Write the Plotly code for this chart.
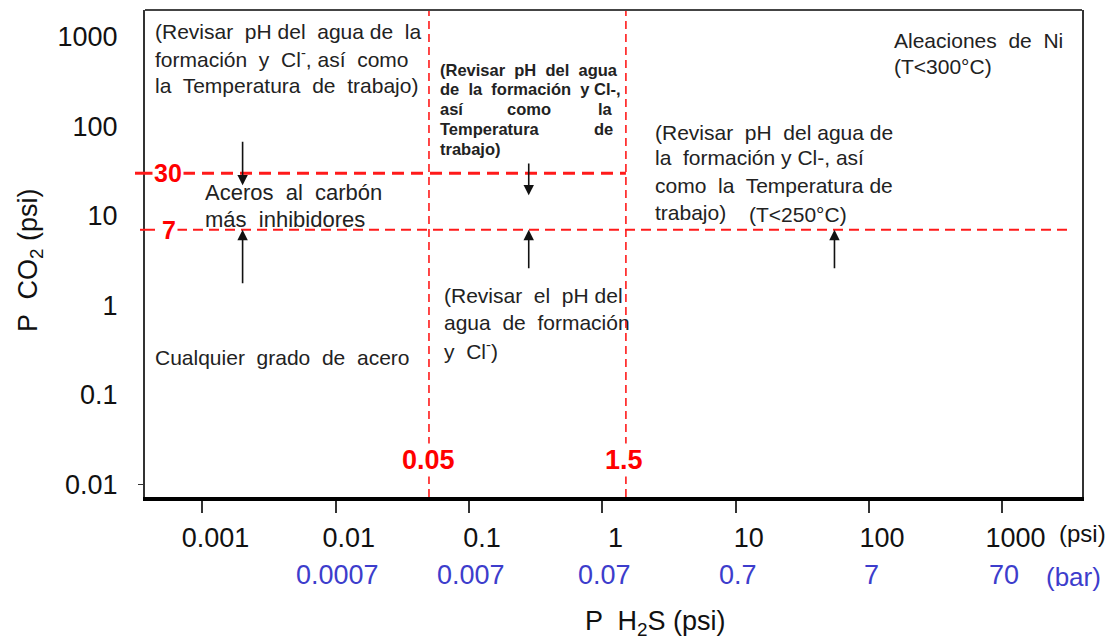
import numpy as np
import plotly.graph_objects as go

# ---------------- data ----------------
x_tick_psi = [0.001, 0.01, 0.1, 1, 10, 100, 1000]
x_tick_psi_text = ["0.001", "0.01", "0.1", "1", "10", "100", "1000"]
x_tick_bar = [0.01, 0.1, 1, 10, 100, 1000]
x_tick_bar_text = ["0.0007", "0.007", "0.07", "0.7", "7", "70"]
y_tick_vals = [0.01, 0.1, 1, 10, 100, 1000]
y_tick_text = ["0.01", "0.1", "1", "10", "100", "1000"]

h2s_limits = [0.05, 1.5]          # psi, vertical red dashed lines
h2s_limit_labels = ["0.05", "1.5"]
co2_high = 30                      # psi, thick red dashed line (ends at H2S = 1.5)
co2_low = 7                        # psi, thin red dashed line
co2_high_end_h2s = 1.5
co2_low_end_h2s = 3300

arrow_x = [0.002, 0.002, 0.28, 0.28, 55]
arrow_from = [70, 1.7, 40, 2.5, 2.5]
arrow_to = [22, 7, 17, 7, 7]

# ---------------- layout geometry ----------------
W, H = 1115, 640
PL, PR, PT, PB = 145, 1082, 10, 497
X_RANGE = [-3.431, 3.597]
Y_RANGE = [-2.139, 3.300]
FONT = "Liberation Sans, Arial, sans-serif"
RED = "#ff1a1a"
TXT = "#222222"
BLUE = "#3d3dcc"


def px(x):
    return (x - PL) / (PR - PL)


def py(y):
    return (PB - y) / (PB - PT)


fig = go.Figure()

ymin, ymax = 10 ** Y_RANGE[0], 10 ** Y_RANGE[1]
xmin = 10 ** X_RANGE[0]

# horizontal dashed lines
fig.add_trace(go.Scatter(x=[xmin, co2_high_end_h2s], y=[co2_high, co2_high], mode="lines",
                         line=dict(color=RED, width=3, dash="12px,7px"), hoverinfo="skip"))
fig.add_trace(go.Scatter(x=[xmin, co2_low_end_h2s], y=[co2_low, co2_low], mode="lines",
                         line=dict(color=RED, width=2, dash="10px,6px"), hoverinfo="skip"))
# vertical dashed lines
for xv in h2s_limits:
    fig.add_trace(go.Scatter(x=[xv, xv], y=[ymin, ymax], mode="lines",
                             line=dict(color=RED, width=1.6, dash="8px,5px"), hoverinfo="skip"))

ann = []


def text(x, y, s, size=21, color=TXT, bold=False, anchor="left", xref="paper", yref="paper", **kw):
    if bold:
        s = "<b>" + s + "</b>"
    d = dict(x=x, y=y, xref=xref, yref=yref, text=s, showarrow=False,
             xanchor=anchor, yanchor="middle", align=anchor,
             font=dict(family=FONT, size=size, color=color))
    d.update(kw)
    ann.append(d)


def block(xl, ys, lines, **kw):
    for yy, s in zip(ys, lines):
        text(px(xl), py(yy), s, **kw)


# arrows
for xa, y0, y1 in zip(arrow_x, arrow_from, arrow_to):
    ann.append(dict(x=np.log10(xa), y=np.log10(y1), ax=np.log10(xa), ay=np.log10(y0),
                    xref="x", yref="y", axref="x", ayref="y", text="", showarrow=True,
                    arrowhead=2, arrowsize=1.3, arrowwidth=1.6, arrowcolor="#111", standoff=0))

# red limit labels
text(px(168), np.log10(co2_high), str(co2_high), size=25, color="#ff0000", bold=True,
     anchor="center", yref="y", bgcolor="white")
text(px(169), np.log10(co2_low), str(co2_low), size=25, color="#ff0000", bold=True,
     anchor="center", yref="y", bgcolor="white")
for xv, lab, sh in zip(h2s_limits, h2s_limit_labels, [0, -2]):
    text(np.log10(xv), py(460), lab, size=27, color="#ff0000", bold=True, anchor="center",
         xref="x", bgcolor="white", xshift=sh)

# region texts
block(153, [31, 58, 85], ["(Revisar  pH del  agua de  la",
                          "formación  y  Cl<sup>-</sup>, así  como",
                          "la  Temperatura  de  trabajo)"])
B = dict(size=16.5, bold=True)
block(438, [70, 89], ["(Revisar  pH  del  agua", "de  la  formación  y Cl-,"], **B)
text(px(438), py(109), "así", **B)
text(px(529), py(109), "como", anchor="center", **B)
text(px(615), py(109), "la", anchor="right", **B)
text(px(438), py(129), "Temperatura", **B)
text(px(615), py(129), "de", anchor="right", **B)
text(px(438), py(149), "trabajo)", **B)
block(653, [132, 158, 185, 212], ["(Revisar  pH  del agua de",
                                  "la  formación y Cl-, así",
                                  "como  la  Temperatura de",
                                  "trabajo)"])
text(px(747), py(214), "(T&lt;250°C)", size=21)
block(892, [40, 66], ["Aleaciones  de  Ni", "(T&lt;300°C)"])
block(203, [193, 219], ["Aceros  al  carbón", "más  inhibidores"], size=22)
text(px(153), py(358), "Cualquier  grado  de  acero", size=21)
block(442, [296, 323, 350], ["(Revisar  el  pH del", "agua  de  formación", "y  Cl<sup>-</sup>)"])

# bar row under the x axis
for xv, lab in zip(x_tick_bar, x_tick_bar_text):
    text(np.log10(xv), py(575), lab, size=27, color=BLUE, anchor="center", xref="x", xshift=2)
text(px(1082), py(533), "(psi)", size=24, anchor="center", color="#111")
text(px(1073), py(577), "(bar)", size=26, anchor="center", color=BLUE)

# axis titles
text(px(655), py(623), "P  H<sub>2</sub>S (psi)", size=27, anchor="center", color="#111")
text(px(30), py(260), "P  CO<sub>2</sub> (psi)", size=27, anchor="center", color="#111", textangle=-90)

fig.update_layout(
    width=W, height=H,
    margin=dict(l=PL, r=W - PR, t=PT, b=H - PB, autoexpand=False),
    paper_bgcolor="white", plot_bgcolor="white",
    showlegend=False,
    annotations=ann,
    shapes=[
        dict(type="line", xref="paper", yref="paper", x0=0, x1=1, y0=1, y1=1,
             line=dict(color="#444", width=2)),
        dict(type="line", xref="paper", yref="y", x0=px(135), x1=0, y0=co2_high, y1=co2_high,
             line=dict(color=RED, width=3)),
        dict(type="line", xref="paper", yref="y", x0=px(140), x1=0, y0=co2_low, y1=co2_low,
             line=dict(color=RED, width=2)),
    ],
    xaxis=dict(type="log", range=X_RANGE, showgrid=False, zeroline=False, automargin=False,
               showline=True, linecolor="black", linewidth=4,
               ticks="outside", ticklen=12, tickwidth=1.5, tickcolor="#333",
               tickvals=x_tick_psi, ticktext=x_tick_psi_text,
               tickfont=dict(family=FONT, size=27, color="#111"),
               ticklabelshift=13, ticklabelstandoff=2),
    yaxis=dict(type="log", range=Y_RANGE, showgrid=False, zeroline=False, automargin=False,
               showline=True, mirror=True, linecolor="#333", linewidth=2,
               ticks="", tickvals=y_tick_vals, ticktext=y_tick_text,
               tickfont=dict(family=FONT, size=27, color="#111"),
               ticklabelstandoff=20),
    yaxis2=dict(type="log", range=Y_RANGE, overlaying="y", side="left", showgrid=False,
                zeroline=False, showline=False, ticks="outside", ticklen=6, tickwidth=1.2,
                tickcolor="#333", tickvals=[y_tick_vals[0]], showticklabels=False,
                automargin=False),
)
fig.add_trace(go.Scatter(x=[xmin], y=[ymin], yaxis="y2", mode="markers",
                         marker=dict(opacity=0), hoverinfo="skip"))

fig.write_html("out.html", config={"displayModeBar": False},
               post_script="document.body.style.margin='0px'; document.body.style.overflow='hidden';")
